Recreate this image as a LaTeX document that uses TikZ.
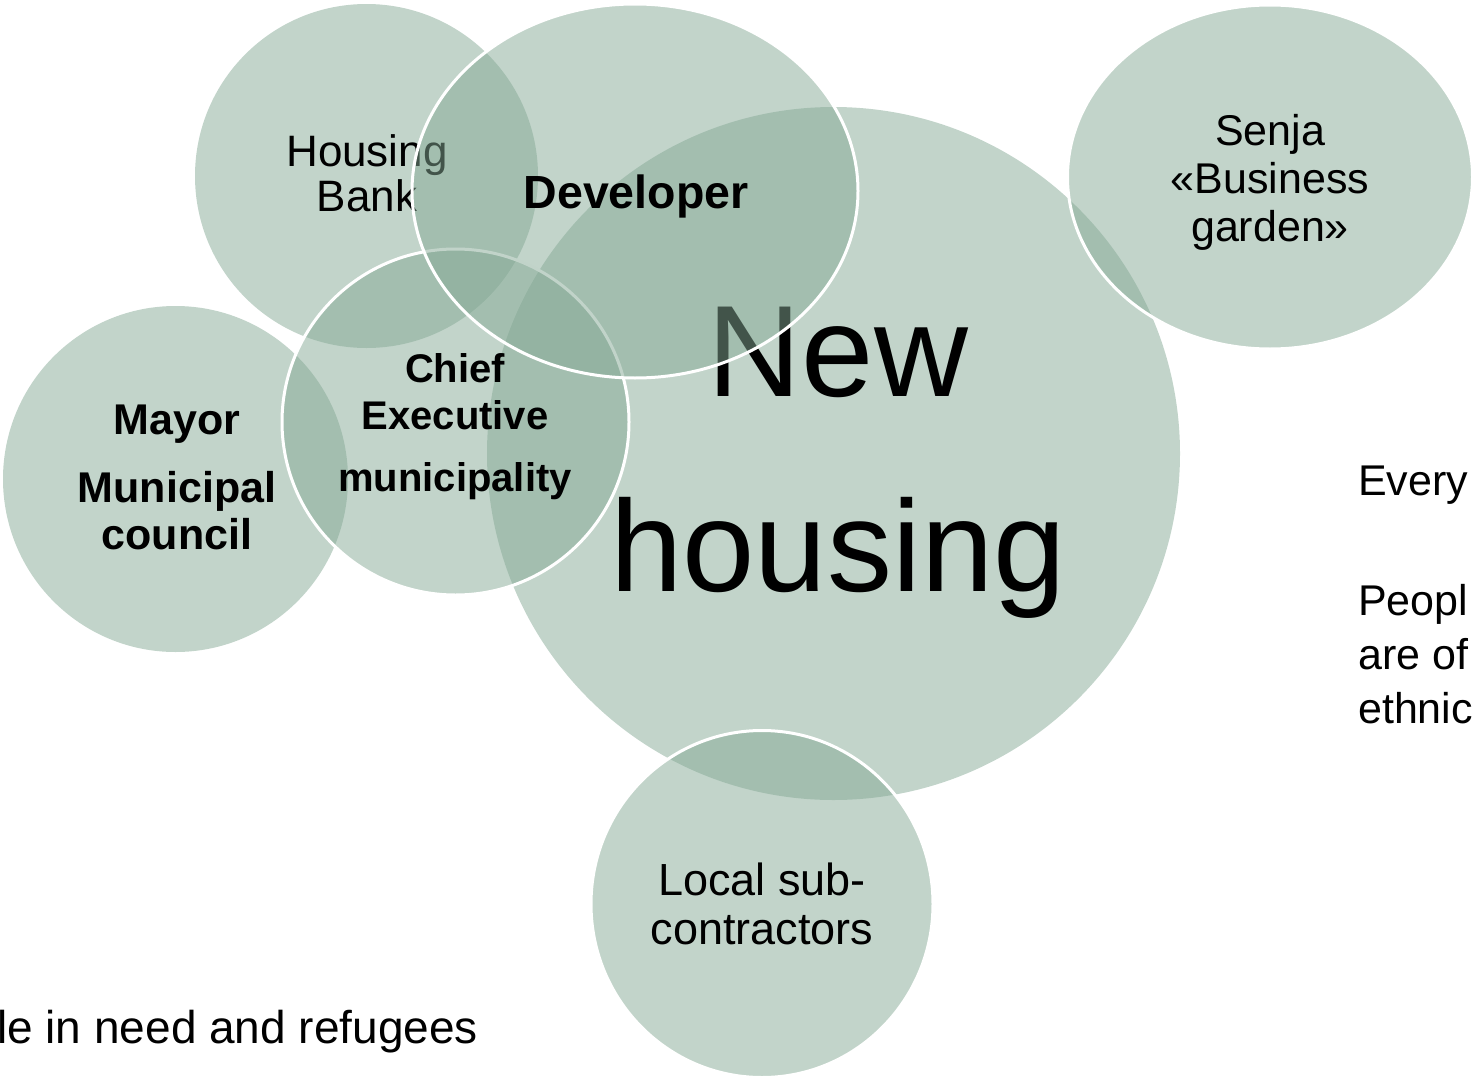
\documentclass[tikz,border=0pt]{standalone}
\usepackage{fontspec}
\setmainfont{Liberation Sans}
\usetikzlibrary{shapes.geometric}
\definecolor{bubblegreen}{RGB}{133,169,149}
\tikzset{
  bubble/.style={ellipse, fill=bubblegreen, fill opacity=0.5, inner sep=0pt},
  rim/.style={draw=white, line width=3pt},
  lbl/.style={align=center, inner sep=0pt, text=black, font=\fontsize{44}{45}\selectfont},
  sidetext/.style={align=left, inner sep=0pt, text=black, font=\fontsize{43}{54}\selectfont}
}
\begin{document}
\begin{tikzpicture}[x=1pt,y=-1pt]
  \clip (0,0) rectangle (1473,1079);
  % bubbles, back to front
  \node[bubble, minimum width=343pt, minimum height=344pt] (bank) at (366.5,176) {};
  \node[lbl] (banktext) at (367,173.5) {Housing\\Bank};
  \node[bubble, minimum width=345pt, minimum height=346pt] (mayor) at (175.5,479) {};
  \node[lbl, font=\bfseries\fontsize{43}{47}\selectfont] (mayortext) at (177,477.5) {Mayor\\[21pt]Municipal\\council};
  \node[bubble, minimum width=693pt, minimum height=693pt] (house) at (833.5,453.5) {};
  \node[lbl, font=\fontsize{130}{195}\selectfont] (housetext) at (838,462.5) {New\\housing};
  \node[bubble, rim, minimum width=347pt, minimum height=346pt] (chief) at (455.5,422) {};
  \node[lbl, font=\bfseries\fontsize{40}{47}\selectfont] (chieftext) at (455,427) {Chief\\Executive\\[15pt]municipality};
  \node[bubble, rim, minimum width=405pt, minimum height=344pt] (senja) at (1270,177) {};
  \node[lbl, font=\fontsize{43}{48}\selectfont] (senjatext) at (1270,182) {Senja\\«Business\\garden»};
  \node[bubble, rim, minimum width=342pt, minimum height=347pt] (local) at (762,904) {};
  \node[lbl, font=\fontsize{45}{49}\selectfont] (localtext) at (762,904) {Local sub-\\contractors};
  \node[bubble, rim, minimum width=446pt, minimum height=374pt] (dev) at (635,191) {};
  \node[lbl, font=\bfseries\fontsize{46.5}{47}\selectfont] (devtext) at (636,196.5) {Developer};
  % text cut by the slide edge
  \node[sidetext, anchor=base west] (every) at (1358,495) {Every};
  \node[sidetext, anchor=north west] (people) at (1358,584) {Peopl\\are of\\ethnic};
  \node[sidetext, font=\fontsize{46}{54}\selectfont, anchor=base west] (need) at (-3,1043) {le in need and refugees};
\end{tikzpicture}
\end{document}
